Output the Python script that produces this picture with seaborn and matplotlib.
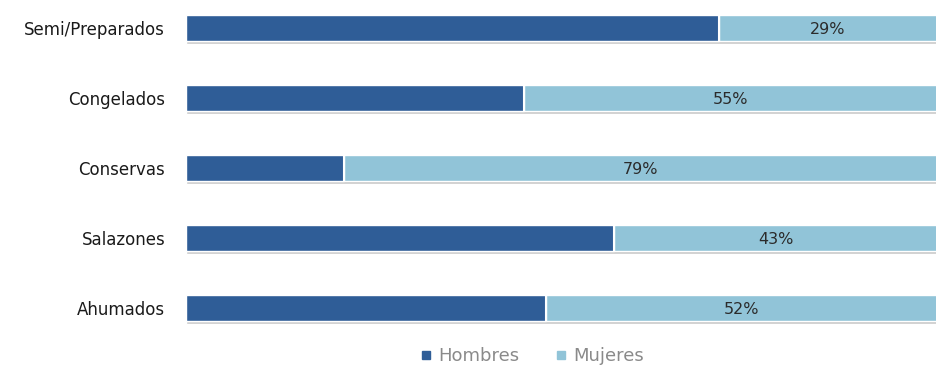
import matplotlib
matplotlib.use("Agg")
import matplotlib.pyplot as plt
import seaborn as sns
import pandas as pd

# data (share of Mujeres, rest is Hombres)
categorias = ["Semi/Preparados", "Congelados", "Conservas", "Salazones", "Ahumados"]
mujeres = [29, 55, 79, 43, 52]
hombres = [100 - m for m in mujeres]

color_hombres = "#2f5d97"
color_mujeres = "#91c4d8"

sns.set_theme(style="white")
plt.rcParams["font.family"] = ["DejaVu Sans"]

df = pd.DataFrame({"categoria": categorias, "Hombres": hombres, "Mujeres": mujeres})
df["total"] = 100

fig = plt.figure(figsize=(9.37, 3.71), dpi=100)
ax = fig.add_axes([186 / 937, 35 / 371, 751 / 937, 336 / 371])

# shadow line under each bar
sns.barplot(data=df, y="categoria", x="total", color="#c9c9c9", width=0.40,
            ax=ax, orient="h")
for p in ax.patches:
    p.set_y(p.get_y() + 0.035)
# full bar = mujeres, overlaid by hombres
sns.barplot(data=df, y="categoria", x="total", color=color_mujeres, width=0.38,
            ax=ax, orient="h", saturation=1)
sns.barplot(data=df, y="categoria", x="Hombres", color=color_hombres, width=0.38,
            ax=ax, orient="h", saturation=1)

for i, (h, m) in enumerate(zip(hombres, mujeres)):
    ax.plot([h, h], [i - 0.19, i + 0.19], color="white", lw=1.5)
    ax.text(h + m / 2, i + 0.02, f"{m}%", ha="center", va="center",
            fontsize=11.5, color="#2b2b2b")

ax.set_xlim(0, 100)
ax.set_ylim(4.4, -0.4)
ax.set_xlabel("")
ax.set_ylabel("")
ax.set_xticks([])
ax.tick_params(axis="y", length=0, labelsize=12, pad=15, labelcolor="#1a1a1a")
sns.despine(ax=ax, left=True, bottom=True, top=True, right=True)

handles = [plt.Line2D([], [], marker="s", ls="", color=color_hombres, markersize=6),
           plt.Line2D([], [], marker="s", ls="", color=color_mujeres, markersize=6)]
fig.legend(handles, ["Hombres", "Mujeres"], loc="center", bbox_to_anchor=(0.567, 0.04),
           ncol=2, frameon=False, fontsize=13, labelcolor="#8a8a8a",
           handlelength=0.8, handletextpad=0.3, columnspacing=1.9)

fig.savefig("out.png", dpi=100)
